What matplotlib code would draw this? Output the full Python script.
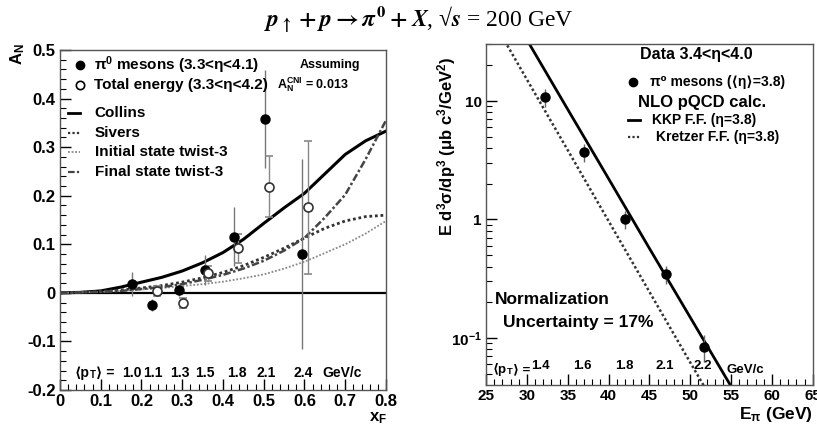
import numpy as np
import matplotlib
matplotlib.use("Agg")
import matplotlib.pyplot as plt
from matplotlib.ticker import MultipleLocator, FixedLocator, NullFormatter, LogLocator

plt.rcParams['font.family'] = ['Liberation Sans', 'DejaVu Sans']
plt.rcParams['font.weight'] = 'bold'
plt.rcParams['mathtext.fontset'] = 'custom'
plt.rcParams['mathtext.rm'] = 'Liberation Sans:bold'
plt.rcParams['mathtext.it'] = 'Liberation Sans:bold'
plt.rcParams['mathtext.bf'] = 'Liberation Sans:bold'

# ---- left panel: A_N vs x_F ----
pi0_xf = [0.176, 0.227, 0.292, 0.356, 0.428, 0.503, 0.593]
pi0_an = [0.018, -0.025, 0.005, 0.047, 0.116, 0.358, 0.080]
pi0_err = [0.025, 0.013, 0.012, 0.030, 0.060, 0.100, 0.195]

tot_xf = [0.237, 0.301, 0.364, 0.438, 0.514, 0.609]
tot_an = [0.004, -0.021, 0.040, 0.092, 0.219, 0.176]
tot_err = [0.010, 0.010, 0.015, 0.030, 0.063, 0.137]

curve_xf = [0.0, 0.05, 0.1, 0.15, 0.2, 0.25, 0.3, 0.35, 0.4, 0.45, 0.5, 0.55, 0.6, 0.65, 0.7, 0.75, 0.8]
collins = [0.0, 0.001, 0.004, 0.012, 0.022, 0.032, 0.045, 0.062, 0.083, 0.110, 0.143, 0.175, 0.205, 0.245, 0.285, 0.313, 0.333]
sivers = [0.0, 0.001, 0.003, 0.006, 0.010, 0.015, 0.022, 0.031, 0.042, 0.056, 0.073, 0.092, 0.113, 0.133, 0.148, 0.157, 0.160]
twist3_init = [0.0, 0.001, 0.002, 0.004, 0.007, 0.010, 0.014, 0.018, 0.023, 0.030, 0.038, 0.050, 0.064, 0.082, 0.100, 0.122, 0.148]
twist3_final = [0.0, 0.001, 0.002, 0.004, 0.008, 0.012, 0.018, 0.027, 0.037, 0.050, 0.066, 0.087, 0.113, 0.155, 0.202, 0.275, 0.355]

# <pT> label positions (axes fraction) for the left panel
left_pt_x = [0.19, 0.255, 0.337, 0.414, 0.512, 0.604, 0.715]
left_pt_lbl = ["1.0", "1.1", "1.3", "1.5", "1.8", "2.1", "2.4"]

# ---- right panel: cross section vs E_pi ----
xs_e = [32.2, 37.0, 42.0, 47.0, 51.7]
xs_val = [10.8, 3.7, 1.0, 0.345, 0.084]
xs_relerr = [0.18, 0.18, 0.17, 0.18, 0.25]

kkp_e = [30.0, 35.0, 40.0, 45.0, 50.0, 55.0]
kkp_val = [32.9, 8.5, 2.21, 0.57, 0.149, 0.039]
kretzer_e = [27.6, 30.0, 35.0, 40.0, 45.0, 50.0, 52.0]
kretzer_val = [29.5, 15.2, 3.85, 0.97, 0.245, 0.062, 0.036]

right_pt_e = [30.5, 35.7, 40.8, 45.7, 50.4]
right_pt_lbl = ["1.4", "1.6", "1.8", "2.1", "2.2"]


def pt_label(ax, x, y, fs):
    # <p_T> = built from pieces so the angle brackets come from DejaVu
    t1 = ax.text(x, y, "⟨p", transform=ax.transAxes, fontsize=fs, va='center')
    t2 = ax.annotate("T", xy=(1, 0), xycoords=t1, fontsize=fs * 0.7, va='bottom', ha='left')
    ax.annotate("⟩ =", xy=(1, 0), xycoords=(t2, t1), fontsize=fs, va='bottom', ha='left')


fig = plt.figure(figsize=(8.17, 4.29), dpi=100)
fig.patch.set_facecolor('white')

axL = fig.add_axes([0.0734, 0.0909, 0.399, 0.7925])
axR = fig.add_axes([0.5949, 0.1026, 0.400, 0.7949])

for ax in (axL, axR):
    for s in ax.spines.values():
        s.set_linewidth(1.0)
        s.set_color('#555555')
    ax.tick_params(which='both', direction='in', top=False, right=False, labelsize=12, pad=3)
    ax.tick_params(which='major', length=8, width=1.0)
    ax.tick_params(which='minor', length=4, width=0.8)

# left
axL.axhline(0, color='black', lw=1.6)
axL.plot(curve_xf, collins, color='black', lw=2.2)
axL.plot(curve_xf, sivers, color='#333333', lw=2.0, ls=(0, (1, 1)))
axL.plot(curve_xf, twist3_init, color='#888888', lw=1.3, ls=(0, (1, 1)))
axL.plot(curve_xf, twist3_final, color='#444444', lw=1.8, ls=(0, (3, 1, 1, 1)))

axL.errorbar(pi0_xf, pi0_an, yerr=pi0_err, fmt='o', color='black', ms=6.5,
             ecolor='#777777', elinewidth=1.0, capsize=0)
axL.errorbar(tot_xf, tot_an, yerr=tot_err, fmt='o', mfc='white', mec='#333333', mew=1.2,
             ms=6.5, ecolor='#888888', elinewidth=1.0, capsize=3)

axL.set_xlim(0, 0.8)
axL.set_ylim(-0.2, 0.5)
axL.xaxis.set_minor_locator(MultipleLocator(0.02))
axL.yaxis.set_minor_locator(MultipleLocator(0.02))
axL.set_xticks([0, 0.1, 0.2, 0.3, 0.4, 0.5, 0.6, 0.7, 0.8])
axL.set_xticklabels(["0", "0.1", "0.2", "0.3", "0.4", "0.5", "0.6", "0.7", "0.8"])
axL.set_yticks([-0.2, -0.1, 0, 0.1, 0.2, 0.3, 0.4, 0.5])
axL.set_yticklabels(["-0.2", "-0.1", "0", "0.1", "0.2", "0.3", "0.4", "0.5"])

tL = axL.transAxes
axL.plot([0.061], [0.956], 'o', color='black', ms=6, transform=tL)
axL.text(0.104, 0.956, r"π$^{0}$ mesons (3.3<η<4.1)", transform=tL, fontsize=11, va='center')
axL.plot([0.061], [0.897], 'o', mfc='white', mec='black', mew=1.2, ms=6, transform=tL)
axL.text(0.104, 0.897, "Total energy (3.3<η<4.2)", transform=tL, fontsize=11, va='center')
axL.text(0.828, 0.956, "Assuming", transform=tL, fontsize=9, va='center', ha='center')
axL.text(0.666, 0.897, r"A$_{N}^{CNI}$ = 0.013", transform=tL, fontsize=9, va='center')
axL.plot([0.025, 0.061], [0.815, 0.815], color='black', lw=2.0, transform=tL)
axL.text(0.107, 0.815, "Collins", transform=tL, fontsize=11, va='center')
axL.plot([0.025, 0.061], [0.756, 0.756], color='#333333', lw=1.6, ls=(0, (1, 1)), transform=tL)
axL.text(0.107, 0.756, "Sivers", transform=tL, fontsize=11, va='center')
axL.plot([0.025, 0.061], [0.700, 0.700], color='#888888', lw=1.3, ls=(0, (1, 1)), transform=tL)
axL.text(0.107, 0.700, "Initial state twist-3", transform=tL, fontsize=11, va='center')
axL.plot([0.025, 0.061], [0.641, 0.641], color='#444444', lw=1.6, ls=(0, (3, 1, 1, 1)), transform=tL)
axL.text(0.107, 0.641, "Final state twist-3", transform=tL, fontsize=11, va='center')

pt_label(axL, 0.046, 0.05, 10)
for xv, lb in zip(left_pt_x, left_pt_lbl):
    axL.text(xv, 0.05, lb, transform=tL, fontsize=10, va='center')
axL.text(0.804, 0.05, "GeV/c", transform=tL, fontsize=10, va='center')

fig.text(0.022, 0.875, r"A$_{N}$", rotation=90, fontsize=12, ha='center', va='center')
fig.text(0.463, 0.025, r"x$_{F}$", fontsize=12, ha='center', va='center')

# right
axR.set_yscale('log')
axR.plot(kkp_e, kkp_val, color='black', lw=2.0)
axR.plot(kretzer_e, kretzer_val, color='#333333', lw=1.8, ls=(0, (1, 1)))
xs_err = [v * r for v, r in zip(xs_val, xs_relerr)]
axR.errorbar(xs_e, xs_val, yerr=xs_err, fmt='o', color='black', ms=6.5,
             ecolor='#666666', elinewidth=1.0, capsize=0)
axR.set_xlim(25, 65)
axR.set_ylim(0.0401, 30.3)
axR.xaxis.set_major_locator(MultipleLocator(5))
axR.xaxis.set_minor_locator(MultipleLocator(1))
axR.yaxis.set_major_locator(FixedLocator([0.1, 1, 10]))
axR.set_yticklabels([r"10$^{\mathbf{-1}}$", "1", "10"])
axR.yaxis.set_minor_locator(LogLocator(base=10, subs=np.arange(2, 10)))
axR.yaxis.set_minor_formatter(NullFormatter())
axR.tick_params(axis='x', labelsize=11)
axR.tick_params(axis='y', labelsize=11)

tR = axR.transAxes
axR.text(0.471, 0.968, "Data 3.4<η<4.0", transform=tR, fontsize=11.5, va='center')
axR.plot([0.45], [0.889], 'o', color='black', ms=6, transform=tR)
axR.text(0.502, 0.889, "π⁰ mesons (⟨η⟩=3.8)", transform=tR, fontsize=10, va='center')
axR.text(0.465, 0.827, "NLO pQCD calc.", transform=tR, fontsize=12, va='center')
axR.plot([0.434, 0.471], [0.777, 0.777], color='black', lw=2.0, transform=tR)
axR.text(0.508, 0.777, "KKP F.F. (η=3.8)", transform=tR, fontsize=10, va='center')
axR.plot([0.434, 0.471], [0.727, 0.727], color='#333333', lw=1.6, ls=(0, (1, 1)), transform=tR)
axR.text(0.52, 0.727, "Kretzer F.F. (η=3.8)", transform=tR, fontsize=10, va='center')
axR.text(0.028, 0.252, "Normalization", transform=tR, fontsize=12.5, va='center')
axR.text(0.052, 0.182, "Uncertainty = 17%", transform=tR, fontsize=12.5, va='center')

pt_label(axR, 0.021, 0.044, 9.5)
for ev, lb in zip(right_pt_e, right_pt_lbl):
    axR.text(ev, 0.0575, lb, fontsize=9.5, va='center')
axR.text(0.737, 0.044, "GeV/c", transform=tR, fontsize=9.5, va='center')

fig.text(0.547, 0.66, r"E d$^{3}$σ/dp$^{3}$ (μb c$^{3}$/GeV$^{2}$)", rotation=90,
         fontsize=12, ha='center', va='center')
fig.text(0.995, 0.033, r"E$_{π}$ (GeV)", fontsize=12.5, ha='right', va='center')

fig.text(0.513, 0.955, r"$p_{\uparrow} + p \rightarrow \pi^{0} + X$, √$s$ = 200 GeV",
         fontsize=17, ha='center', va='center', family='Liberation Serif', weight='normal',
         math_fontfamily='stix')

fig.savefig("out.png", dpi=100, facecolor='white')
